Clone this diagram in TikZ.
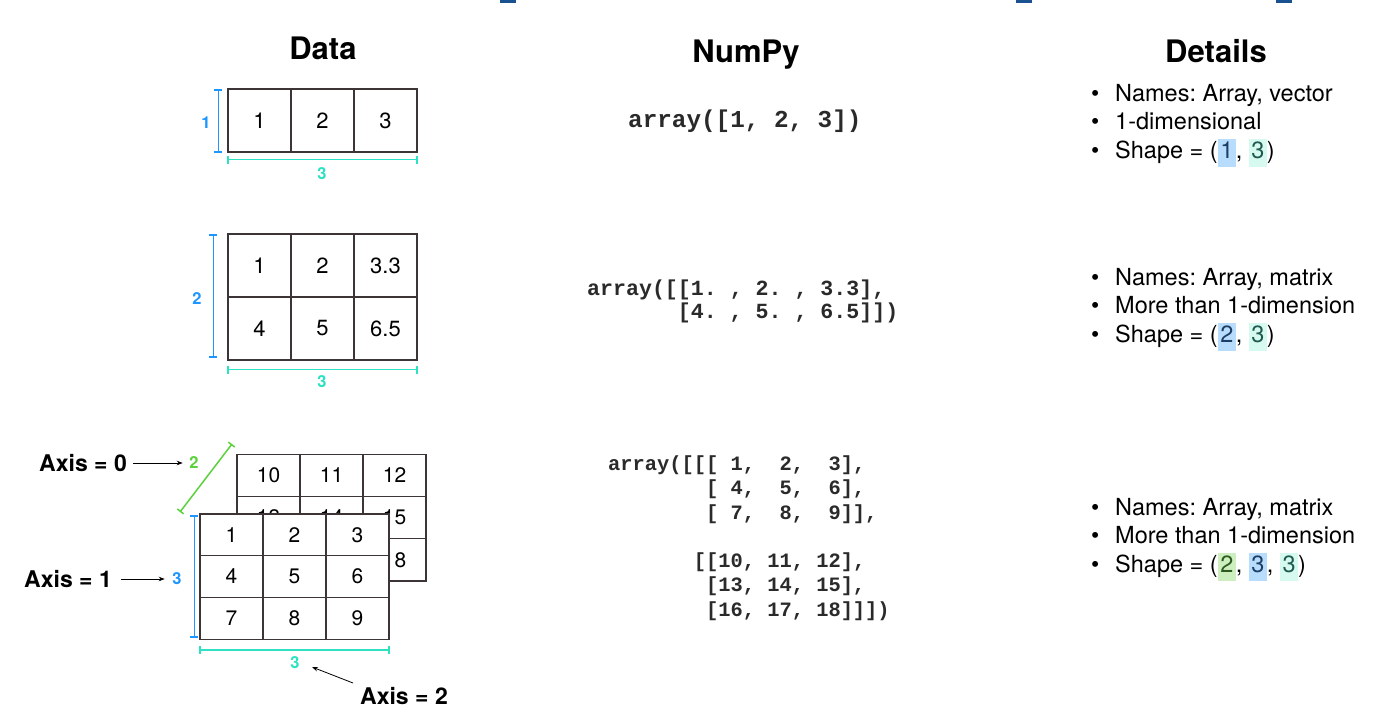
\documentclass[tikz,border=0pt]{standalone}
\usepackage{fontspec}
\setmainfont{TeX Gyre Heros}
\setmonofont{Liberation Mono}
\usetikzlibrary{arrows.meta}
\definecolor{gridc}{HTML}{3D3535}
\definecolor{dimblue}{HTML}{1E96FF}
\definecolor{dimteal}{HTML}{2DE1C3}
\definecolor{dimgreen}{HTML}{5AD23C}
\definecolor{topblue}{HTML}{1A5290}
\definecolor{hlblue}{HTML}{B8DCFB}
\definecolor{hlcyan}{HTML}{D7FAF0}
\definecolor{hlgreen}{HTML}{CDEFC0}
\definecolor{txblue}{HTML}{1B3D66}
\definecolor{txteal}{HTML}{1F5A4F}
\definecolor{txgreen}{HTML}{2D5A1E}
\definecolor{codec}{HTML}{2A2A2A}
\newcommand{\hlbx}[3]{{\setlength{\fboxsep}{2.5pt}\colorbox{#1}{\rule[-6pt]{0pt}{18pt}\textcolor{#2}{#3}}}}
\newcommand{\bul}{\makebox[24pt][l]{•}}
\tikzset{
  cell/.style={draw=gridc, line width=1.1pt, fill=white, minimum width=63pt, minimum height=63pt, inner sep=0pt, font=\fontsize{22}{26}\selectfont},
  cellt/.style={cell, minimum height=42pt, font=\fontsize{21}{25}\selectfont},
  ttl/.style={anchor=base, inner sep=0pt, font=\bfseries\fontsize{31}{36}\selectfont},
  lab/.style={inner sep=0pt, font=\bfseries\fontsize{16.5}{19}\selectfont},
  axlab/.style={inner sep=0pt, font=\bfseries\fontsize{23}{27}\selectfont},
  axarrow/.style={draw=black, line width=0.8pt, -{Stealth[length=6pt,width=4.5pt]}},
  bbr/.style={draw=dimblue, line width=1.8pt, {Bar[width=8pt]}-{Bar[width=8pt]}},
  tbr/.style={draw=dimteal, line width=1.8pt, {Bar[width=8pt]}-{Bar[width=8pt]}},
  gbr/.style={draw=dimgreen, line width=1.5pt, {Bar[width=8pt]}-{Bar[width=8pt]}},
  code/.style={anchor=base west, inner sep=0pt, text=codec},
  det/.style={anchor=base west, inner sep=0pt, font=\frenchspacing\fontsize{23.5}{27}\selectfont},
}
\begin{document}
\frenchspacing
\begin{tikzpicture}[x=1pt, y=-1pt]
\useasboundingbox (0,0) rectangle (1394,727);
\fill[white] (0,0) rectangle (1394,727);
% top marks
\fill[topblue] (500,0) rectangle (516,3);
\fill[topblue] (1016,0) rectangle (1032,3);
\fill[topblue] (1276,0) rectangle (1292,3);

% titles
\node[ttl] (tdata) at (323,60) {Data};
\node[ttl] (tnumpy) at (746,63) {NumPy};
\node[ttl] (tdetails) at (1216,63) {Details};

% ---- row 1 ----
\node[cell] (r1a) at (259.5,120.5) {1};
\node[cell] (r1b) at (322.5,120.5) {2};
\node[cell] (r1c) at (385.5,120.5) {3};
\draw[bbr] ([xshift=-9pt,yshift=-1pt]r1a.north west) -- ([xshift=-9pt]r1a.south west);
\node[lab, text=dimblue] (l1a) at (206,123) {1};
\draw[tbr] ([yshift=-7pt]r1a.south west) -- ([yshift=-7pt]r1c.south east);
\node[lab, text=dimteal] (l1b) at (322,174) {3};

\node[code, font=\ttfamily\bfseries\frenchspacing\fontsize{24.3}{28}\selectfont] (c1) at (628,128) {array([1,~2,~3])};

\node[det] (d1a) at (1091,101.5) {\bul Names: Array, vector};
\node[det] (d1b) at (1091,130) {\bul 1-dimensional};
\node[det] (d1c) at (1091,158.5) {\bul Shape = (\hlbx{hlblue}{txblue}{1}, \hlbx{hlcyan}{txteal}{3})};

% ---- row 2 ----
\node[cell] (r2a) at (259.5,265.5) {1};
\node[cell] (r2b) at (322.5,265.5) {2};
\node[cell] (r2c) at (385.5,265.5) {3.3};
\node[cell] (r2d) at (259.5,328.5) {4};
\node[cell] (r2e) at (322.5,328.5) {5};
\node[cell] (r2f) at (385.5,328.5) {6.5};
\draw[bbr] ([xshift=-14pt,yshift=-1pt]r2a.north west) -- ([xshift=-14pt,yshift=3pt]r2d.south west);
\node[lab, text=dimblue] (l2a) at (197,299) {2};
\draw[tbr] ([yshift=-9pt]r2d.south west) -- ([yshift=-9pt]r2f.south east);
\node[lab, text=dimteal] (l2b) at (322,382) {3};

\node[code, font=\ttfamily\bfseries\frenchspacing\fontsize{21.6}{25}\selectfont] (c2a) at (587,295.5) {array([[1.~,~2.~,~3.3],};
\node[code, font=\ttfamily\bfseries\frenchspacing\fontsize{21.6}{25}\selectfont] (c2b) at (677.7,318) {[4.~,~5.~,~6.5]])};

\node[det] (d2a) at (1091,285.5) {\bul Names: Array, matrix};
\node[det] (d2b) at (1091,313.5) {\bul More than 1-dimension};
\node[det] (d2c) at (1091,342) {\bul Shape = (\hlbx{hlblue}{txblue}{2}, \hlbx{hlcyan}{txteal}{3})};

% ---- row 3 ----
% back layer
\node[cellt, minimum height=42.3pt] (b1) at (268.5,475.2) {10};
\node[cellt, minimum height=42.3pt] (b2) at (331.5,475.2) {11};
\node[cellt, minimum height=42.3pt] (b3) at (394.5,475.2) {12};
\node[cellt, minimum height=42.3pt] (b4) at (268.5,517.5) {13};
\node[cellt, minimum height=42.3pt] (b5) at (331.5,517.5) {14};
\node[cellt, minimum height=42.3pt] (b6) at (394.5,517.5) {15};
\node[cellt, minimum height=42.3pt] (b7) at (268.5,559.8) {16};
\node[cellt, minimum height=42.3pt] (b8) at (331.5,559.8) {17};
\node[cellt, minimum height=42.3pt] (b9) at (394.5,559.8) {18};
% front layer
\node[cellt, minimum height=41.7pt] (f1) at (231.5,534.8) {1};
\node[cellt, minimum height=41.7pt] (f2) at (294.5,534.8) {2};
\node[cellt, minimum height=41.7pt] (f3) at (357.5,534.8) {3};
\node[cellt, minimum height=41.7pt] (f4) at (231.5,576.5) {4};
\node[cellt, minimum height=41.7pt] (f5) at (294.5,576.5) {5};
\node[cellt, minimum height=41.7pt] (f6) at (357.5,576.5) {6};
\node[cellt, minimum height=41.7pt] (f7) at (231.5,618.2) {7};
\node[cellt, minimum height=41.7pt] (f8) at (294.5,618.2) {8};
\node[cellt, minimum height=41.7pt] (f9) at (357.5,618.2) {9};

\draw[bbr] ([xshift=-5pt,yshift=-2pt]f1.north west) -- ([xshift=-5pt,yshift=2pt]f7.south west);
\node[lab, text=dimblue] (l3a) at (177,579) {3};
\draw[tbr] ([yshift=-10pt]f7.south west) -- ([yshift=-10pt]f9.south east);
\node[lab, text=dimteal] (l3b) at (295,663) {3};
\coordinate (g0) at (180,512);
\coordinate (g1) at (232,444);
\draw[gbr] (g0) -- (g1);
\node[lab, text=dimgreen] (l3c) at (194,463) {2};

% axis labels
\node[axlab, anchor=east] (ax0) at (127,463) {Axis = 0};
\node[axlab, anchor=east] (ax1) at (112,579) {Axis = 1};
\node[axlab, anchor=west] (ax2) at (360,696) {Axis = 2};
\draw[axarrow, shorten <=6pt, shorten >=6.5pt] (ax0) -- (l3c);
\draw[axarrow, shorten <=9pt, shorten >=7.5pt] (ax1) -- (l3a);
\coordinate (a2s) at (353,683);
\coordinate (a2e) at (312,667);
\draw[axarrow] (a2s) -- (a2e);

% code row 3
\node[code, font=\ttfamily\bfseries\frenchspacing\fontsize{20.4}{24}\selectfont] (c3a) at (608,470) {array([[[~1,~~2,~~3],};
\node[code, font=\ttfamily\bfseries\frenchspacing\fontsize{20.4}{24}\selectfont] (c3b) at (705.9,494.5) {[~4,~~5,~~6],};
\node[code, font=\ttfamily\bfseries\frenchspacing\fontsize{20.4}{24}\selectfont] (c3c) at (705.9,519) {[~7,~~8,~~9]],};
\node[code, font=\ttfamily\bfseries\frenchspacing\fontsize{20.4}{24}\selectfont] (c3d) at (693.7,567) {[[10,~11,~12],};
\node[code, font=\ttfamily\bfseries\frenchspacing\fontsize{20.4}{24}\selectfont] (c3e) at (705.9,591.5) {[13,~14,~15],};
\node[code, font=\ttfamily\bfseries\frenchspacing\fontsize{20.4}{24}\selectfont] (c3f) at (705.9,616) {[16,~17,~18]]])};

\node[det] (d3a) at (1091,515) {\bul Names: Array, matrix};
\node[det] (d3b) at (1091,543.5) {\bul More than 1-dimension};
\node[det] (d3c) at (1091,572) {\bul Shape = (\hlbx{hlgreen}{txgreen}{2}, \hlbx{hlblue}{txblue}{3}, \hlbx{hlcyan}{txteal}{3})};
\end{tikzpicture}
\end{document}
